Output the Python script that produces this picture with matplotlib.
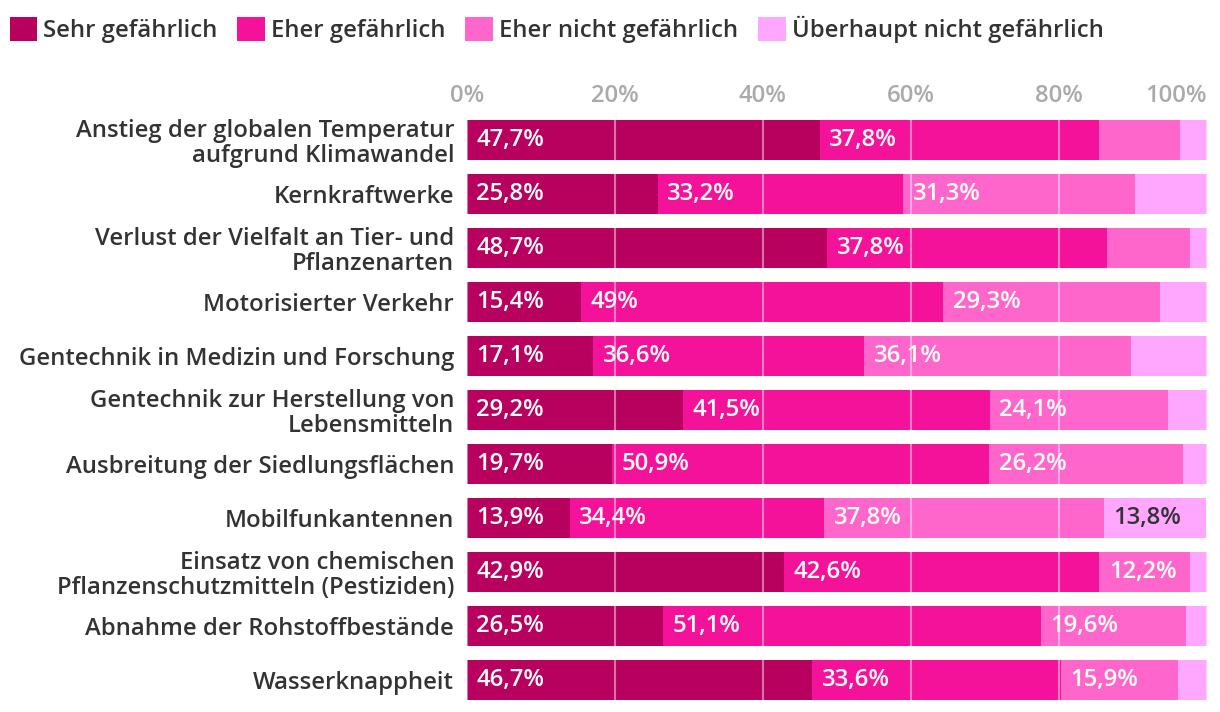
import numpy as np
import matplotlib.pyplot as plt
from matplotlib.patches import Patch

plt.rcParams['font.family'] = ['Open Sans', 'DejaVu Sans']
plt.rcParams['font.weight'] = 'semibold'

categories = ['Anstieg der globalen Temperatur\naufgrund Klimawandel',
              'Kernkraftwerke',
              'Verlust der Vielfalt an Tier- und\nPflanzenarten',
              'Motorisierter Verkehr',
              'Gentechnik in Medizin und Forschung',
              'Gentechnik zur Herstellung von\nLebensmitteln',
              'Ausbreitung der Siedlungsflächen',
              'Mobilfunkantennen',
              'Einsatz von chemischen\nPflanzenschutzmitteln (Pestiziden)',
              'Abnahme der Rohstoffbestände',
              'Wasserknappheit']

series = ['Sehr gefährlich', 'Eher gefährlich', 'Eher nicht gefährlich', 'Überhaupt nicht gefährlich']

sehr = [47.7, 25.8, 48.7, 15.4, 17.1, 29.2, 19.7, 13.9, 42.9, 26.5, 46.7]
eher = [37.8, 33.2, 37.8, 49.0, 36.6, 41.5, 50.9, 34.4, 42.6, 51.1, 33.6]
eher_nicht = [10.9, 31.3, 11.3, 29.3, 36.1, 24.1, 26.2, 37.8, 12.2, 19.6, 15.9]
ueberhaupt = [3.6, 9.7, 2.2, 6.3, 10.2, 5.2, 3.2, 13.8, 2.3, 2.8, 3.8]

colors = ['#b8005f', '#f5129a', '#ff66cc', '#ffa6ff']
label_colors = ['white', 'white', 'white', '#333333']
fs = 17.2

fig = plt.figure(figsize=(12.2, 7.12), dpi=100)
ax = fig.add_axes([0.3825, 0.007, 0.6065, 0.834])

y = np.arange(len(categories))
left = np.zeros(len(categories))
for vals, col, lc, name in zip([sehr, eher, eher_nicht, ueberhaupt], colors, label_colors, series):
    vals = np.array(vals)
    ax.barh(y, vals, left=left, height=0.74, color=col, label=name, zorder=1)
    for yi, l, v in zip(y, left, vals):
        if v >= 12:
            txt = ('%g' % v).replace('.', ',') + '%'
            ax.text(l + 1.3, yi, txt, color=lc, va='center', ha='left', fontsize=fs, zorder=3)
    left += vals

ax.set_xlim(0, 100)
ax.set_ylim(len(categories) - 0.5, -0.5)
ax.set_yticks(y)
ax.set_yticklabels(categories, fontsize=fs, color='#333333', linespacing=1.05)
ax.set_xticks(np.arange(0, 101, 20))
ax.set_xticklabels(['%d%%' % t for t in range(0, 101, 20)], fontsize=fs, color='#aaaaaa')
ax.xaxis.tick_top()
ax.tick_params(length=0, axis='x', pad=4)
ax.tick_params(length=0, axis='y', pad=9)
ax.xaxis.get_major_ticks()[-1].label2.set_horizontalalignment('right')
ax.grid(axis='x', color='white', alpha=0.45, linewidth=1.5, zorder=2)
ax.set_axisbelow(False)
for s in ax.spines.values():
    s.set_visible(False)

handles = [Patch(facecolor=c, edgecolor='none') for c in colors]
fig.legend(handles, series, loc='upper left', bbox_to_anchor=(0.0, 0.991), ncol=4,
           frameon=False, fontsize=fs, handlelength=1.15, handleheight=1.15,
           handletextpad=0.25, columnspacing=0.84, labelcolor='#333333',
           borderaxespad=0.1, borderpad=0.3)

fig.savefig('out.png', dpi=100)
